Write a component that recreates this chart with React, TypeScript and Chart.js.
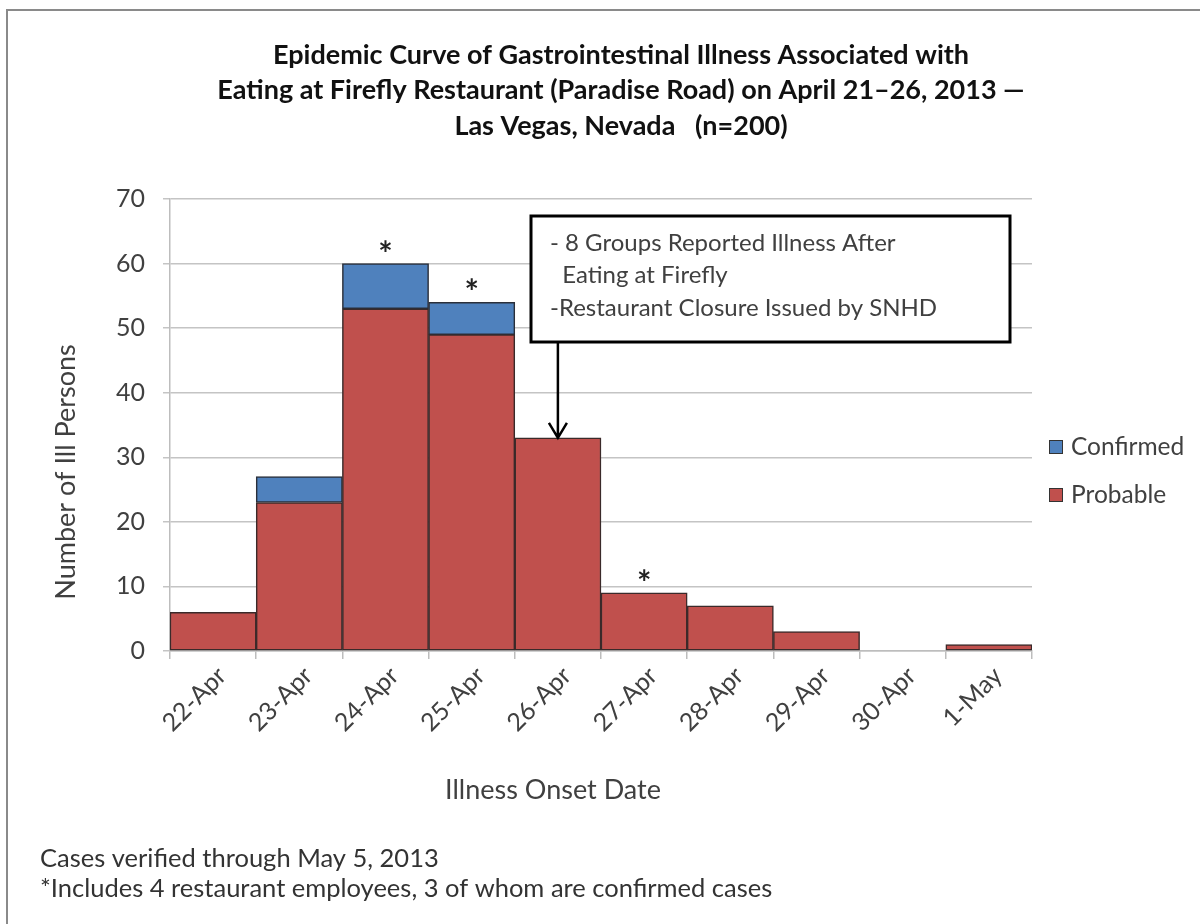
import React, { useEffect, useRef } from "react";
import { Chart, registerables } from "chart.js";

Chart.register(...registerables);

// ---------- data ----------
const categories = ["22-Apr", "23-Apr", "24-Apr", "25-Apr", "26-Apr", "27-Apr", "28-Apr", "29-Apr", "30-Apr", "1-May"];
const probable = [6, 23, 53, 49, 33, 9, 7, 3, 0, 1];
const confirmed = [0, 4, 7, 5, 0, 0, 0, 0, 0, 0];
const yMin = 0;
const yMax = 70;
const yStep = 10;
const titleLines = [
  "Epidemic Curve of Gastrointestinal Illness Associated with",
  "Eating at Firefly Restaurant (Paradise Road) on April 21\u201326, 2013 \u2014",
  "Las Vegas, Nevada   (n=200)",
];
const xAxisTitle = "Illness Onset Date";
const yAxisTitle = "Number of Ill Persons";
const asteriskDays = ["24-Apr", "25-Apr", "27-Apr"];
const arrowDay = "26-Apr";
const annotationLines = [
  "- 8 Groups Reported Illness After",
  "  Eating at Firefly",
  "-Restaurant Closure Issued by SNHD",
];
const footerLines = [
  "Cases verified through May 5, 2013",
  "*Includes 4 restaurant employees, 3 of whom are confirmed cases",
];

const RED = "#C0504D";
const BLUE = "#4F81BD";
const FONT = "Lato, 'Open Sans', sans-serif";
const TEXT = "#404040";

const nz = (v: number) => (v === 0 ? null : v);

const decorPlugin = {
  id: "decor",
  afterDraw(chart: any) {
    const ctx = chart.ctx as CanvasRenderingContext2D;
    const xs = chart.scales.x;
    const ys = chart.scales.y;
    ctx.save();

    // outer frame (top & left)
    ctx.strokeStyle = "#8a8a8a";
    ctx.lineWidth = 2;
    ctx.beginPath();
    ctx.moveTo(1200, 10);
    ctx.lineTo(7, 10);
    ctx.lineTo(7, 924);
    ctx.stroke();

    // title
    ctx.fillStyle = "#111";
    ctx.textAlign = "center";
    ctx.textBaseline = "middle";
    ctx.font = `bold 27px ${FONT}`;
    titleLines.forEach((l, i) => ctx.fillText(l, 621, 55 + i * 35.5));

    // axis titles
    ctx.fillStyle = TEXT;
    ctx.font = `27px ${FONT}`;
    ctx.fillText(xAxisTitle, 553, 790);
    ctx.save();
    ctx.translate(66, 472);
    ctx.rotate(-Math.PI / 2);
    ctx.fillText(yAxisTitle, 0, 0);
    ctx.restore();

    // asterisks
    ctx.font = `bold 34px ${FONT}`;
    ctx.fillStyle = "#222";
    ctx.textBaseline = "alphabetic";
    asteriskDays.forEach((d) => {
      const i = categories.indexOf(d);
      const total = probable[i] + confirmed[i];
      ctx.fillText("*", xs.getPixelForValue(i), ys.getPixelForValue(total) + 2);
    });
    ctx.textBaseline = "middle";

    // annotation box
    const bx = 531, by = 216, bw = 479, bh = 126;
    ctx.fillStyle = "#fff";
    ctx.fillRect(bx, by, bw, bh);
    ctx.strokeStyle = "#000";
    ctx.lineWidth = 3;
    ctx.strokeRect(bx, by, bw, bh);
    ctx.fillStyle = TEXT;
    ctx.textAlign = "left";
    ctx.font = `24px ${FONT}`;
    annotationLines.forEach((l, i) => ctx.fillText(l, 550, 243 + i * 32.5));

    // arrow
    const ai = categories.indexOf(arrowDay);
    const ax = xs.getPixelForValue(ai);
    const tip = ys.getPixelForValue(probable[ai] + confirmed[ai]);
    ctx.strokeStyle = "#000";
    ctx.lineWidth = 2.5;
    ctx.beginPath();
    ctx.moveTo(ax, by + bh);
    ctx.lineTo(ax, tip);
    ctx.moveTo(ax - 9, tip - 15);
    ctx.lineTo(ax, tip);
    ctx.lineTo(ax + 9, tip - 15);
    ctx.stroke();

    // legend
    const legend = [
      { label: "Confirmed", color: BLUE, y: 447 },
      { label: "Probable", color: RED, y: 495 },
    ];
    ctx.font = `24.5px ${FONT}`;
    legend.forEach((it) => {
      ctx.fillStyle = it.color;
      ctx.fillRect(1049, it.y - 7, 14, 14);
      ctx.strokeStyle = "#333";
      ctx.lineWidth = 1;
      ctx.strokeRect(1049.5, it.y - 6.5, 13, 13);
      ctx.fillStyle = TEXT;
      ctx.fillText(it.label, 1071, it.y);
    });

    // footer
    ctx.font = `25.5px ${FONT}`;
    ctx.fillStyle = "#333";
    footerLines.forEach((l, i) => ctx.fillText(l, 40, 859 + i * 30));

    ctx.restore();
  },
};

export default function App() {
  const ref = useRef<HTMLCanvasElement>(null);
  useEffect(() => {
    if (!ref.current) return;
    const chart = new Chart(ref.current, {
      type: "bar",
      data: {
        labels: categories,
        datasets: [
          {
            label: "Probable",
            data: probable.map(nz),
            backgroundColor: RED,
            borderColor: "#3a2a2a",
            borderWidth: 1.5,
            borderSkipped: false,
            categoryPercentage: 1,
            barPercentage: 1,
          },
          {
            label: "Confirmed",
            data: confirmed.map(nz),
            backgroundColor: BLUE,
            borderColor: "#2a2f3a",
            borderWidth: 1.5,
            borderSkipped: false,
            categoryPercentage: 1,
            barPercentage: 1,
          },
        ],
      },
      options: {
        animation: false,
        responsive: false,
        devicePixelRatio: 1,
        layout: { padding: { top: 199, left: 50, right: 168, bottom: 118 } },
        plugins: {
          legend: { display: false },
          title: { display: false },
          tooltip: { enabled: false },
        },
        scales: {
          x: {
            stacked: true,
            afterFit: (axis: any) => {
              axis.height = 155;
            },
            grid: {
              display: true,
              offset: true,
              drawOnChartArea: false,
              drawTicks: true,
              tickLength: 8,
              color: "#bdbdbd",
              lineWidth: 1.5,
            },
            border: { display: true, color: "#bdbdbd", width: 1.5 },
            ticks: {
              minRotation: 45,
              maxRotation: 45,
              autoSkip: false,
              padding: 2,
              labelOffset: 9,
              color: TEXT,
              font: { family: FONT, size: 25 },
            },
            title: { display: false, text: xAxisTitle },
          },
          y: {
            stacked: true,
            min: yMin,
            max: yMax,
            afterFit: (axis: any) => {
              axis.width = 120;
            },
            grid: {
              color: "#c4c4c4",
              lineWidth: 1.5,
              tickLength: 7,
            },
            border: { display: true, color: "#bdbdbd", width: 1.5 },
            ticks: {
              stepSize: yStep,
              padding: 18,
              color: TEXT,
              font: { family: FONT, size: 25 },
            },
            title: { display: false, text: yAxisTitle },
          },
        },
      },
      plugins: [decorPlugin],
    });
    return () => chart.destroy();
  }, []);
  return (
    <div style={{ position: "absolute", left: 0, top: 0, width: 1200, height: 924, background: "#fff" }}>
      <canvas ref={ref} width={1200} height={924} />
    </div>
  );
}
